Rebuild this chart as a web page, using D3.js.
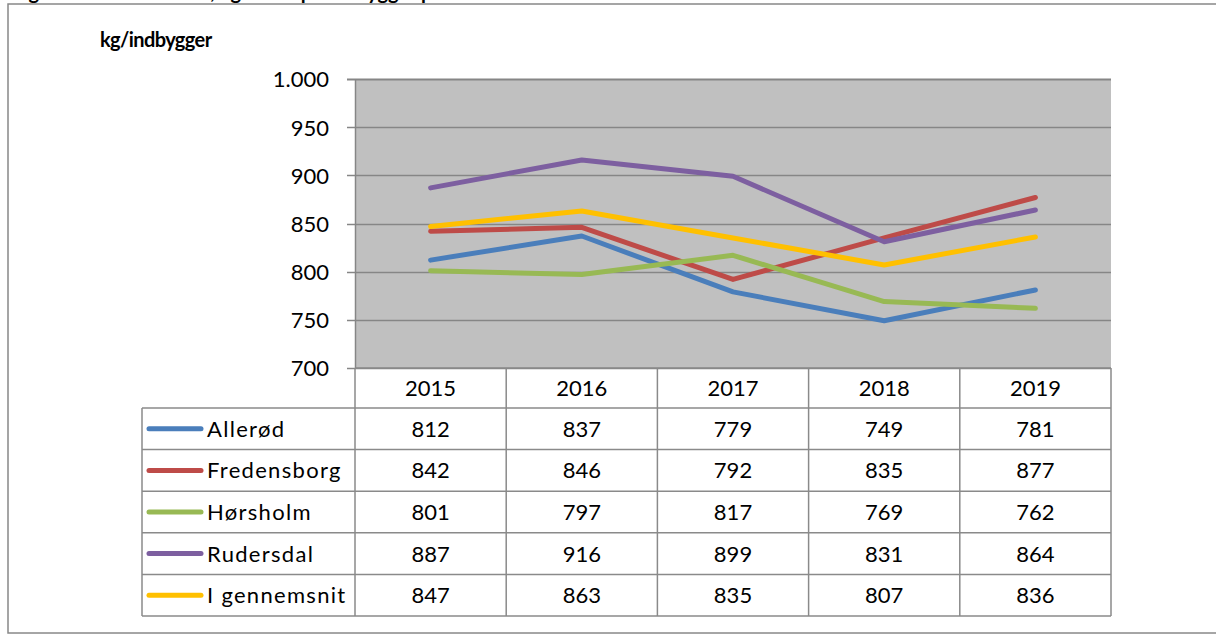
<!DOCTYPE html>
<html>
<head>
<meta charset="utf-8">
<script src="https://d3js.org/d3.v7.min.js"></script>
<style>
  body { margin: 0; background: #fff; }
  svg { display: block; }
</style>
</head>
<body>
<div id="graph"></div>
<script>
    // data
    var years = ["2015", "2016", "2017", "2018", "2019"];
    var kommuner = ["Allerød", "Fredensborg", "Hørsholm", "Rudersdal", "I gennemsnit"];
    var allerod = [812, 837, 779, 749, 781];
    var fredensborg = [842, 846, 792, 835, 877];
    var horsholm = [801, 797, 817, 769, 762];
    var rudersdal = [887, 916, 899, 831, 864];
    var gennemsnit = [847, 863, 835, 807, 836];
    var yTicks = [700, 750, 800, 850, 900, 950, 1000];
    var colors = ["#4a7ebb", "#be4b48", "#98b954", "#7d5fa0", "#ffc000"];

    var series = [allerod, fredensborg, horsholm, rudersdal, gennemsnit].map(function (v, i) {
        return { name: kommuner[i], values: v, color: colors[i] };
    });

    var W = 1216, H = 634;
    var plot = { left: 355, right: 1111, top: 79, bottom: 368 };
    var tableBottom = 616, tableLeft = 142, headerBottom = 408;
    var font = "Lato, 'Open Sans', sans-serif";
    var gridColor = "#868686";

    var svg = d3.select("#graph")
        .append("svg")
        .attr("width", W)
        .attr("height", H);

    // title sits mostly above the visible area (only descenders show)
    svg.append("text")
        .attr("x", 12)
        .attr("y", -1)
        .style("font-family", font)
        .style("font-weight", "bold")
        .style("font-size", "20px")
        .text("Figur 4: Restaffald i alt, kg affald pr. indbygger pr. år");

    // outer frame
    svg.append("rect")
        .attr("x", 8)
        .attr("y", 4)
        .attr("width", 1220)
        .attr("height", 629)
        .attr("fill", "none")
        .attr("stroke", "#888")
        .attr("stroke-width", 1.5);

    var x = d3.scaleBand()
        .domain(years)
        .range([plot.left, plot.right]);

    var y = d3.scaleLinear()
        .domain([700, 1000])
        .range([plot.bottom, plot.top]);

    var da = d3.formatLocale({ decimal: ",", thousands: ".", grouping: [3], currency: ["", " kr."] });
    var fmt = da.format(",");

    // plot background
    svg.append("rect")
        .attr("x", plot.left)
        .attr("y", plot.top)
        .attr("width", plot.right - plot.left)
        .attr("height", plot.bottom - plot.top)
        .attr("fill", "#c0c0c0");

    // gridlines
    svg.append("g")
        .selectAll("line")
        .data(yTicks)
        .enter()
        .append("line")
        .attr("x1", plot.left - 8)
        .attr("x2", plot.right)
        .attr("y1", function (d) { return Math.round(y(d)) + 0.5; })
        .attr("y2", function (d) { return Math.round(y(d)) + 0.5; })
        .attr("stroke", gridColor)
        .attr("stroke-width", function (d) { return d === 1000 ? 2 : 1.5; });

    // y axis
    var yAxis = svg.append("g")
        .attr("transform", "translate(" + plot.left + ",0)")
        .call(d3.axisLeft(y).tickValues(yTicks).tickSize(0).tickPadding(26).tickFormat(fmt));
    yAxis.select(".domain").attr("stroke", gridColor).attr("stroke-width", 1.5);
    yAxis.selectAll("text")
        .style("font-family", font)
        .style("font-size", "22px")
        .attr("fill", "#000")
        .attr("dy", "0.36em");

    svg.append("text")
        .attr("x", 100)
        .attr("y", 47)
        .style("font-family", font)
        .style("font-weight", "bold")
        .style("font-size", "20px")
        .style("letter-spacing", "-0.6px")
        .text("kg/indbygger");

    // lines
    var line = d3.line()
        .x(function (d, i) { return x(years[i]) + x.bandwidth() / 2; })
        .y(function (d) { return y(d); });

    svg.append("g")
        .selectAll("path")
        .data(series)
        .enter()
        .append("path")
        .attr("d", function (d) { return line(d.values); })
        .attr("fill", "none")
        .attr("stroke", function (d) { return d.color; })
        .attr("stroke-width", 5)
        .attr("stroke-linecap", "round")
        .attr("stroke-linejoin", "round");

    // data table
    var row = d3.scaleBand()
        .domain(kommuner)
        .range([headerBottom, tableBottom]);

    var table = svg.append("g")
        .attr("stroke", "#8a8a8a")
        .attr("stroke-width", 1.5);

    table.append("line")
        .attr("x1", plot.left).attr("x2", plot.right)
        .attr("y1", plot.bottom).attr("y2", plot.bottom);

    table.selectAll(".hrow")
        .data(kommuner)
        .enter()
        .append("line")
        .attr("x1", tableLeft).attr("x2", plot.right)
        .attr("y1", function (d) { return row(d); })
        .attr("y2", function (d) { return row(d); });

    table.append("line")
        .attr("x1", tableLeft).attr("x2", plot.right)
        .attr("y1", tableBottom).attr("y2", tableBottom);

    table.selectAll(".vcol")
        .data(years)
        .enter()
        .append("line")
        .attr("x1", function (d) { return x(d); })
        .attr("x2", function (d) { return x(d); })
        .attr("y1", plot.bottom)
        .attr("y2", tableBottom);

    table.append("line")
        .attr("x1", plot.right).attr("x2", plot.right)
        .attr("y1", plot.bottom).attr("y2", tableBottom);

    table.append("line")
        .attr("x1", tableLeft).attr("x2", tableLeft)
        .attr("y1", headerBottom).attr("y2", tableBottom);

    // header years
    svg.append("g")
        .selectAll("text")
        .data(years)
        .enter()
        .append("text")
        .attr("x", function (d) { return x(d) + x.bandwidth() / 2; })
        .attr("y", (plot.bottom + headerBottom) / 2)
        .attr("dy", "0.36em")
        .attr("text-anchor", "middle")
        .style("font-family", font)
        .style("font-size", "22px")
        .text(function (d) { return d; });

    // legend keys + names + values
    var rows = svg.append("g")
        .selectAll("g")
        .data(series)
        .enter()
        .append("g")
        .attr("transform", function (d) { return "translate(0," + (row(d.name) + row.bandwidth() / 2) + ")"; });

    rows.append("line")
        .attr("x1", 149).attr("x2", 201)
        .attr("y1", 0).attr("y2", 0)
        .attr("stroke", function (d) { return d.color; })
        .attr("stroke-width", 5)
        .attr("stroke-linecap", "round");

    rows.append("text")
        .attr("x", 207)
        .attr("dy", "0.36em")
        .style("font-family", font)
        .style("font-size", "22px")
        .style("letter-spacing", "1.3px")
        .text(function (d) { return d.name; });

    rows.selectAll(".val")
        .data(function (d) { return d.values; })
        .enter()
        .append("text")
        .attr("x", function (d, i) { return x(years[i]) + x.bandwidth() / 2; })
        .attr("dy", "0.36em")
        .attr("text-anchor", "middle")
        .style("font-family", font)
        .style("font-size", "22px")
        .text(function (d) { return d; });
</script>
</body>
</html>
